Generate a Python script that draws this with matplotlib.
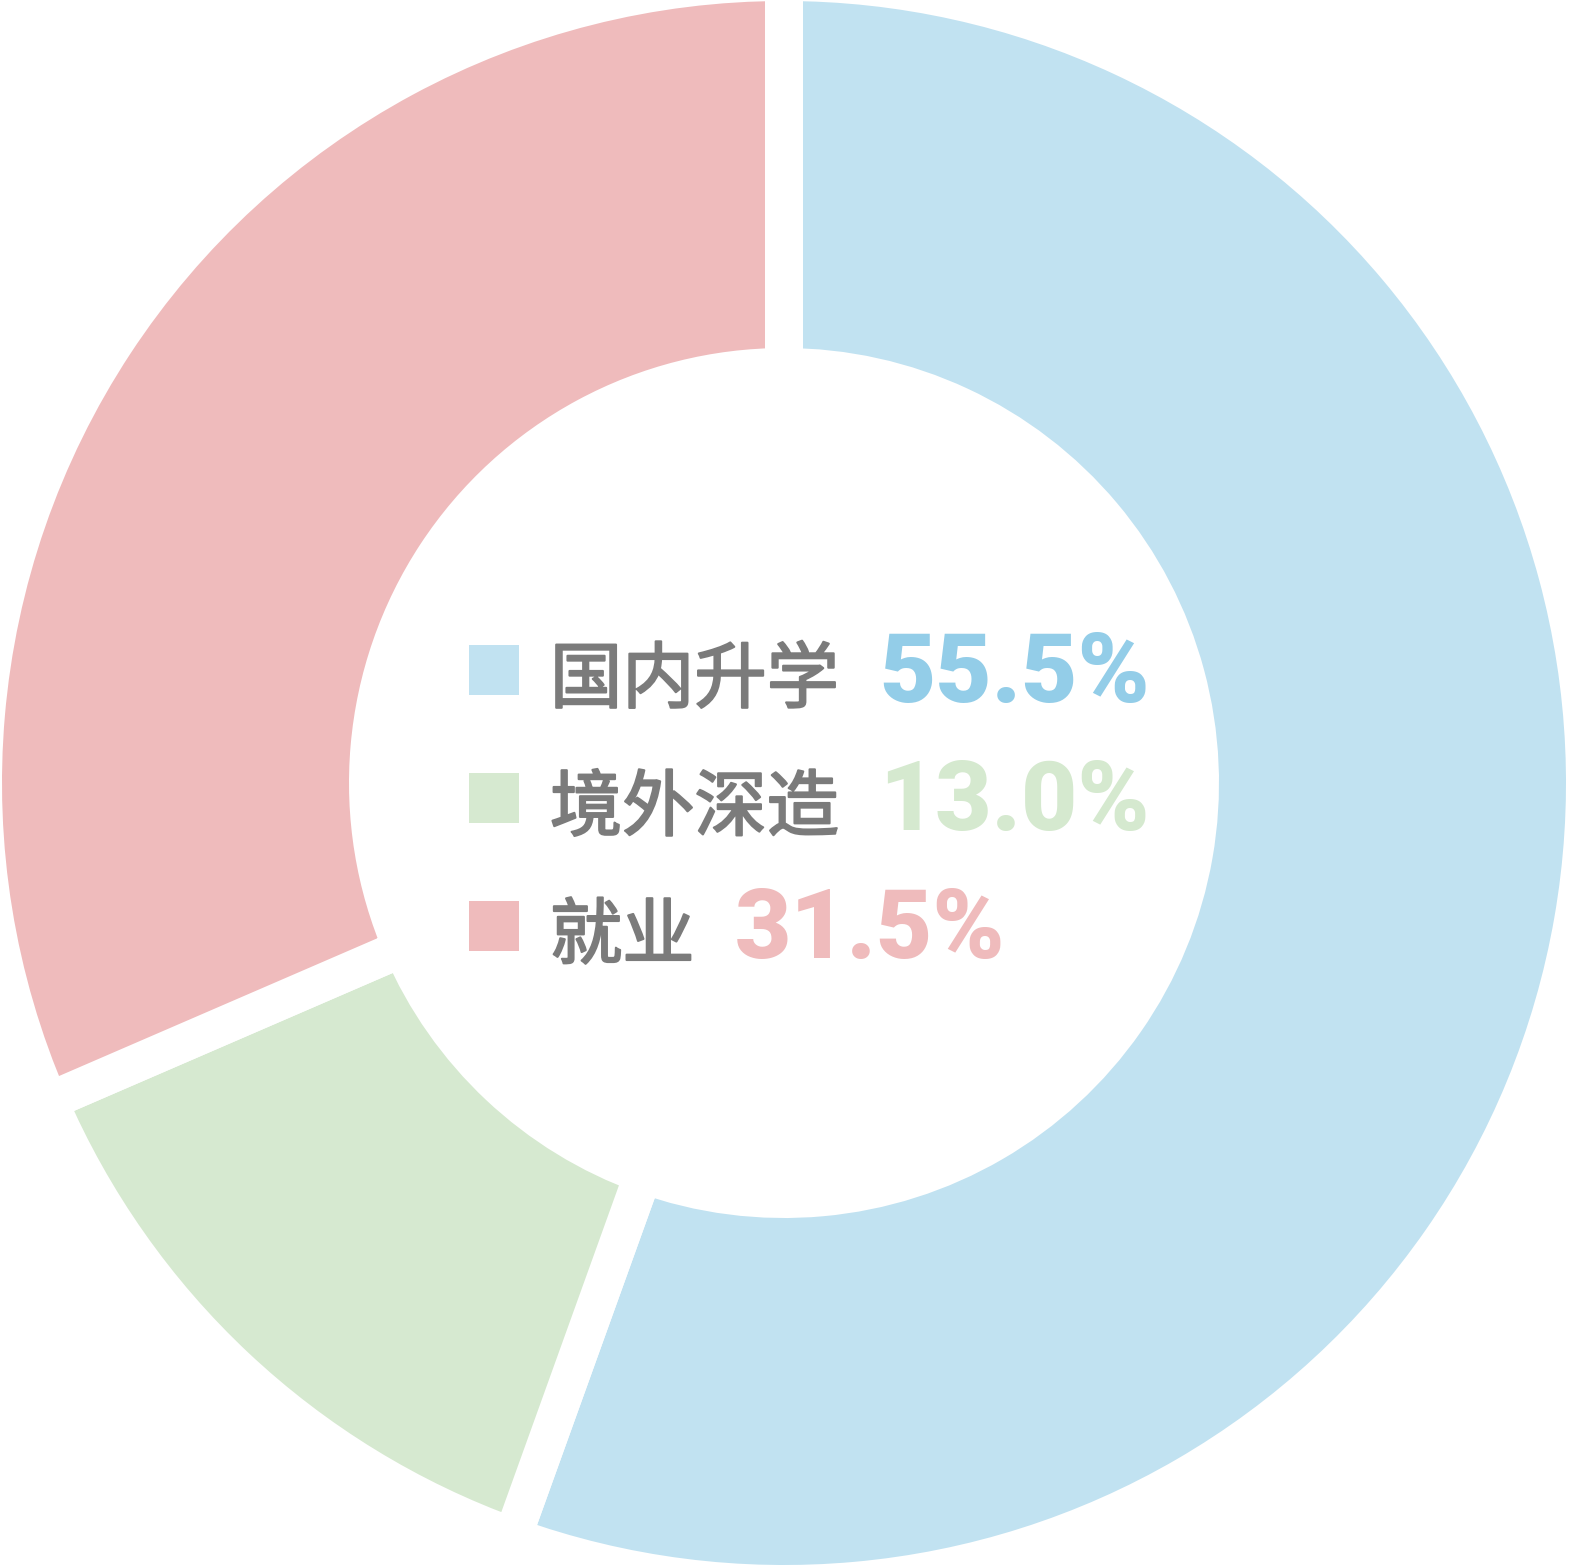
import matplotlib
matplotlib.use("Agg")
import matplotlib.pyplot as plt
import matplotlib.patheffects as pe
from matplotlib.patches import Rectangle

# data
categories = ["国内升学", "境外深造", "就业"]
shares = [55.5, 13.0, 31.5]
wedge_colors = ["#c1e2f1", "#d6e9d0", "#efbbbc"]
value_colors = ["#93cde8", "#d5e9cf", "#efbbbc"]
value_labels = [f"{v:.1f}%" for v in shares]

W, H = 1569, 1567
DPI = 100

fig = plt.figure(figsize=(W / DPI, H / DPI), dpi=DPI)
ax = fig.add_axes([0, 0, 1, 1])

gap_px = 38
cx, cy = 784, H - 783
ax.pie(shares, colors=wedge_colors, startangle=90, counterclock=False,
       radius=782 + gap_px / 2, center=(cx, cy),
       wedgeprops=dict(width=385, edgecolor="white", linewidth=gap_px * 72 / DPI))
ax.set_xlim(0, W)
ax.set_ylim(0, H)
ax.set_aspect("equal")
ax.axis("off")

# legend inside the hole
baselines = [702, 830, 958]
fig.canvas.draw()
renderer = fig.canvas.get_renderer()
for name, label, wc, vc, base in zip(categories, value_labels, wedge_colors, value_colors, baselines):
    y = H - base
    ax.add_patch(Rectangle((469, y + 7), 50, 50, color=wc, lw=0))
    t = ax.text(550, y, name, fontsize=52, color="#7b7b7b", va="baseline", ha="left",
                family=["Noto Sans CJK SC", "DejaVu Sans"],
                path_effects=[pe.withStroke(linewidth=1.5, foreground="#7b7b7b")])
    bb = t.get_window_extent(renderer=renderer)
    ax.text(bb.x1 + 40, y, label, fontsize=70, color=vc, va="baseline", ha="left",
            fontweight="black", family=["Roboto", "DejaVu Sans"])

fig.savefig("out.png", dpi=DPI, facecolor="white")
